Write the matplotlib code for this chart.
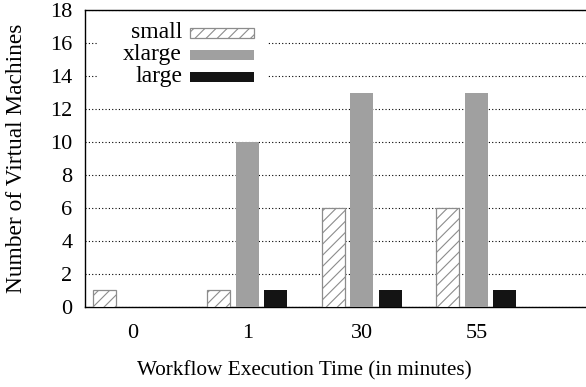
import numpy as np
import matplotlib.pyplot as plt
from matplotlib.patches import Rectangle

# VM counts per instance type at each sampled execution time
times = ["0", "1", "30", "55"]
series_names = ["small", "xlarge", "large"]
small = [1, 1, 6, 6]
xlarge = [0, 10, 13, 13]
large = [0, 1, 1, 1]

plt.rcParams["font.family"] = ["Liberation Serif", "DejaVu Serif"]
plt.rcParams["hatch.linewidth"] = 0.8

HATCH_EDGE = "#8c8c8c"
styles = {
    "small": dict(facecolor="white", edgecolor=HATCH_EDGE, hatch="///", linewidth=0.9),
    "xlarge": dict(facecolor="#a0a0a0", edgecolor="none"),
    "large": dict(facecolor="#141414", edgecolor="none"),
}

fig = plt.figure(figsize=(5.86, 3.87), dpi=100)
ax = fig.add_axes([0.145, 0.207, 0.855, 0.767])

x = np.arange(len(times))
w = 0.2
step = 0.249

for off, name, vals in zip((-step, 0, step), series_names, (small, xlarge, large)):
    ax.bar(x + off, vals, w, zorder=3, **styles[name])

ax.set_ylim(0, 18)
ax.set_yticks(range(0, 19, 2))
ax.set_xlim(-0.419, 3.957)
ax.set_xticks(x)
ax.set_xticklabels(times)
ax.tick_params(length=0, labelsize=16)
ax.tick_params(axis="x", pad=12)
ax.tick_params(axis="y", pad=9)

ax.yaxis.grid(True, linestyle=(0, (1, 2)), color="black", linewidth=0.8)
ax.set_axisbelow(True)
ax.spines["right"].set_visible(False)
for s in ax.spines.values():
    s.set_linewidth(1.0)

ax.set_xlabel("Workflow Execution Time (in minutes)", fontsize=15.3)
ax.xaxis.set_label_coords(0.437, -0.215)
ax.xaxis.label.set_va("center")
ax.set_ylabel("Number of Virtual Machines", fontsize=16.8)
ax.yaxis.set_label_coords(-0.136, 0.5)
ax.yaxis.label.set_va("center")

# key box in the upper left: labels right-aligned, swatches to their right
tr = ax.transAxes
ax.add_patch(Rectangle((0.026, 0.725), 0.338, 0.25, transform=tr,
                       facecolor="white", edgecolor="none", zorder=4))
row_y = [0.923, 0.850, 0.776]
for name, yc in zip(series_names, row_y):
    ax.text(0.194, yc, name, transform=tr, ha="right", va="center",
            fontsize=17, zorder=5)
    ax.add_patch(Rectangle((0.21, yc - 0.017), 0.128, 0.034, transform=tr,
                           zorder=5, **styles[name]))

fig.savefig("out.png", dpi=100)
